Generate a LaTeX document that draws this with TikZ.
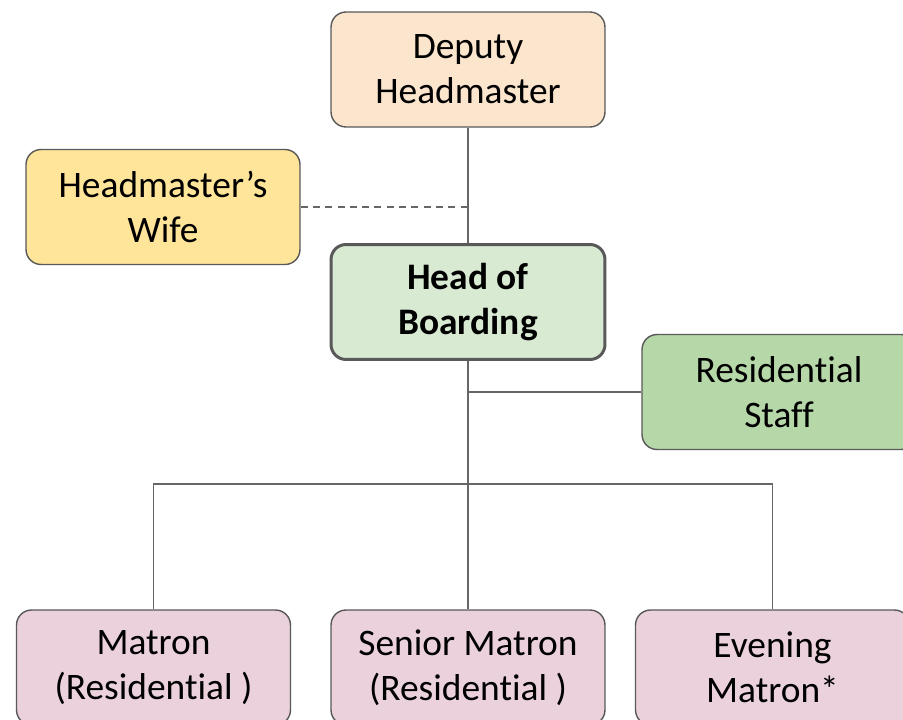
\documentclass[tikz,border=0pt]{standalone}
\usepackage{fontspec}
\setmainfont{Carlito}[Ligatures={NoCommon}]
\usepackage{xcolor}
\usepackage{tikz}
\usetikzlibrary{positioning}
\definecolor{boxline}{HTML}{595959}
\definecolor{linkline}{HTML}{666666}
\definecolor{peachfill}{HTML}{FCE5CD}
\definecolor{yellowfill}{HTML}{FFE599}
\definecolor{palegreen}{HTML}{D9EAD3}
\definecolor{midgreen}{HTML}{B6D7A8}
\definecolor{pinkfill}{HTML}{EAD1DC}
\tikzset{
  staffpicture/.style={x=0.02cm, y=-0.02cm},
  staffbox/.style={draw=boxline, line width=0.8pt, rounded corners=0.3cm, align=center, font=\fontsize{21.3}{25.6}\selectfont, inner sep=2pt, minimum width=5.48cm, minimum height=2.3cm},
  staffhead/.style={staffbox, line width=1.7pt, fill=palegreen, font=\fontsize{21.3}{25.6}\selectfont\bfseries},
  stafflink/.style={draw=linkline, line width=1.1pt},
  staffthin/.style={draw=linkline, line width=0.8pt},
  staffdash/.style={stafflink, dashed, dash pattern=on 4pt off 3pt}
}
\begin{document}
\begin{tikzpicture}[staffpicture]
\path[use as bounding box, clip] (0,0) rectangle (903,720);
\node[staffbox, fill=peachfill] (deputy) at (468,69.5) {Deputy\\Headmaster};
\node[staffbox, fill=yellowfill] (wife) at (163,207) {Headmaster’s\\Wife};
\node[staffhead] (hob) at (468,302) {Head of\\Boarding};
\node[staffbox, fill=midgreen] (resstaff) at (779,392) {Residential\\Staff};
\node[staffbox, fill=pinkfill] (matron) at (153.5,667.5) {Matron\\(Residential )};
\node[staffbox, fill=pinkfill] (senior) at (468,667.5) {Senior Matron\\(Residential )};
\node[staffbox, fill=pinkfill] (evening) at (772.5,667.5) {Evening\\Matron*};
\coordinate (bus) at (468,484);
\draw[stafflink] (deputy) -- (hob);
\draw[staffdash] (wife.east) -- (wife.east -| hob.north);
\draw[stafflink] (resstaff.west) -- (resstaff.west -| hob.south);
\draw[stafflink] (hob) -- (bus);
\draw[staffthin] (bus) -- (senior);
\draw[staffthin] (matron.north) |- (bus) -| (evening.north);
\end{tikzpicture}
\end{document}
